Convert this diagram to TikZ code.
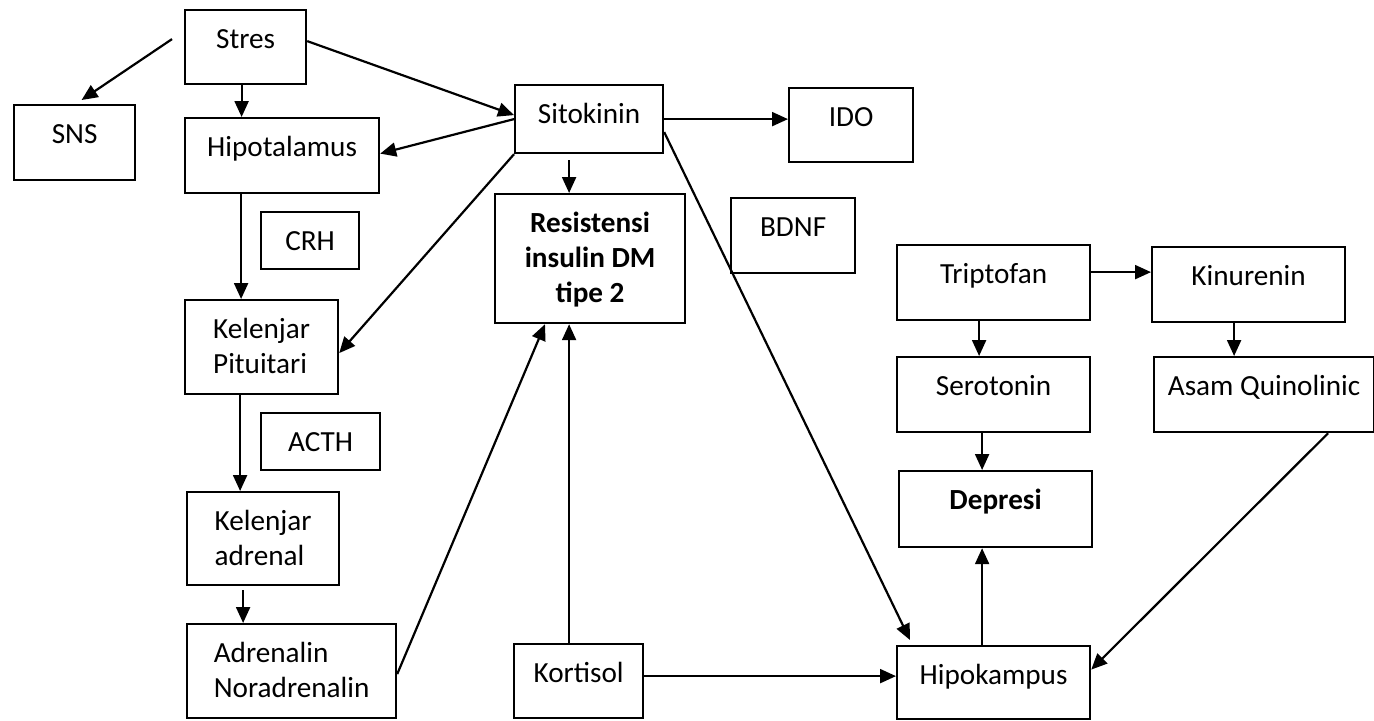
\documentclass[tikz,border=0pt]{standalone}
\usepackage{fontspec}
\setmainfont{Carlito}
\usetikzlibrary{arrows.meta}

\begin{document}
\begin{tikzpicture}[%
  >={Triangle[length=8pt,width=7pt]},
  x=0.5pt, y=-0.5pt,
  kotak/.style 2 args={draw, line width=1.1pt, anchor=north west,
    inner xsep=4pt, inner ysep=9.25pt, text height=10pt,
    minimum width=#1, text depth=#2,
    font=\fontsize{14.6}{17.5}\selectfont},
  panah/.style={->, line width=1.1pt},
]

  \useasboundingbox (0,0) rectangle (1374,720);

  \node[kotak={60.5pt}{8.5pt}] (stres) at (184,9) {Stres};
  \node[kotak={60.5pt}{9pt}] (sns) at (13,104) {SNS};
  \node[kotak={97pt}{9pt}] (hipotalamus) at (184,117) {Hipotalamus};
  \node[kotak={49pt}{0pt}] (crh) at (260,211) {CRH};
  \node[kotak={76.5pt}{18.5pt}] (pituitari) at (184,299)
    {\begin{tabular}[t]{@{}l@{}}Kelenjar\\Pituitari\end{tabular}};
  \node[kotak={59.5pt}{0pt}] (acth) at (260,412) {ACTH};
  \node[kotak={76pt}{18pt}] (adrenal) at (186,491)
    {\begin{tabular}[t]{@{}l@{}}Kelenjar\\adrenal\end{tabular}};
  \node[kotak={104.5pt}{18.5pt}] (adrenalin) at (186,623)
    {\begin{tabular}[t]{@{}l@{}}Adrenalin\\Noradrenalin\end{tabular}};

  \node[kotak={74pt}{5.5pt}] (sitokinin) at (514,84) {Sitokinin};
  \node[kotak={62pt}{8.5pt}] (ido) at (788,87) {IDO};
  \node[kotak={95pt}{36pt}] (resistensi) at (494,193)
    {\bfseries\begin{tabular}[t]{@{}c@{}}Resistensi\\insulin DM\\tipe 2\end{tabular}};
  \node[kotak={62pt}{9pt}] (bdnf) at (730,197) {BDNF};
  \node[kotak={64.5pt}{8.5pt}] (kortisol) at (513,643) {Kortisol};

  \node[kotak={96.5pt}{9pt}] (triptofan) at (896,244) {Triptofan};
  \node[kotak={96.5pt}{9pt}] (kinurenin) at (1151,246) {Kinurenin};
  \node[kotak={96.5pt}{9pt}] (serotonin) at (896,356) {Serotonin};
  \node[kotak={110pt}{9pt}] (asam) at (1153,356) {Asam Quinolinic};
  \node[kotak={96.5pt}{9.5pt}] (depresi) at (898,470) {\textbf{Depresi}};
  \node[kotak={96.5pt}{8pt}] (hipokampus) at (896,645) {Hipokampus};

  \draw[panah] ([shift={(-6pt,4pt)}]stres.west) -- ([shift={(3.5pt,2pt)}]sns.north);
  \draw[panah] ([xshift=-2pt]stres.south) -- ([xshift=-2pt]stres.south |- hipotalamus.north);
  \draw[panah] ([yshift=3pt]stres.east) -- ([yshift=2pt]sitokinin.west);
  \draw[panah] (sitokinin.west) -- ([yshift=1pt]hipotalamus.east);
  \draw[panah] (sitokinin.south west) -- ([yshift=-3pt]pituitari.east);
  \draw[panah] ([shift={(-10pt,-3pt)}]sitokinin.south) -- ([xshift=-10pt]sitokinin.south |- resistensi.north);
  \draw[panah] (sitokinin.east) -- (sitokinin.east -| ido.west);
  \draw[panah] ([yshift=-6.5pt]sitokinin.east) -- ([shift={(7pt,2.5pt)}]hipokampus.north west);

  \draw[panah] ([xshift=-20.5pt]hipotalamus.south) -- ([xshift=-20.5pt]hipotalamus.south |- pituitari.north);
  \draw[panah] ([xshift=-10.75pt]pituitari.south) -- ([xshift=-10.75pt]pituitari.south |- adrenal.north);
  \draw[panah] ([shift={(-10pt,-2pt)}]adrenal.south) -- ([xshift=-10pt]adrenal.south |- adrenalin.north);
  \draw[panah] ([yshift=-1.5pt]adrenalin.east) -- ([xshift=25.5pt]resistensi.south west);

  \draw[panah] ([xshift=-4.75pt]kortisol.north) -- ([xshift=-4.75pt]kortisol.north |- resistensi.south);
  \draw[panah] ([yshift=2.5pt]kortisol.east) -- ([yshift=2.5pt]kortisol.east -| hipokampus.west);
  \draw[panah] ([xshift=-5.75pt]hipokampus.north) -- ([xshift=-5.75pt]hipokampus.north |- depresi.south);

  \draw[panah] ([xshift=-7.25pt]triptofan.south) -- ([xshift=-7.25pt]triptofan.south |- serotonin.north);
  \draw[panah] ([yshift=5.25pt]triptofan.east) -- ([yshift=5.25pt]triptofan.east -| kinurenin.west);
  \draw[panah] ([xshift=-5.75pt]serotonin.south) -- ([xshift=-5.75pt]serotonin.south |- depresi.north);
  \draw[panah] ([xshift=-7.25pt]kinurenin.south) -- ([xshift=-7.25pt]kinurenin.south |- asam.north);
  \draw[panah] ([xshift=32pt]asam.south) -- ([yshift=6.5pt]hipokampus.east);

\end{tikzpicture}
\end{document}
